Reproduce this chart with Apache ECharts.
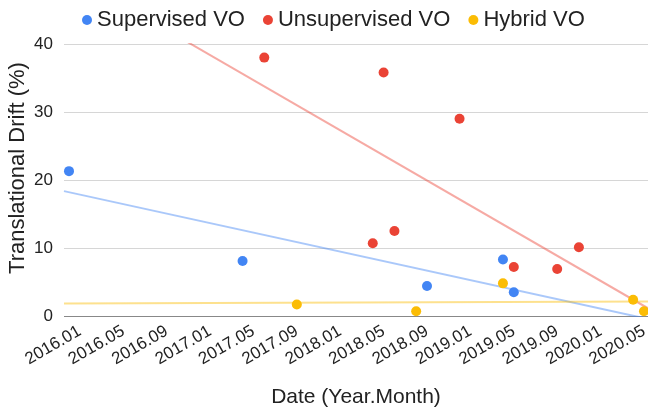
<!DOCTYPE html>
<html lang="en">
<head>
    <meta charset="UTF-8">
    <title>Translational Drift over time</title>
    <script src="https://cdn.jsdelivr.net/npm/echarts@6.0.0/dist/echarts.min.js"></script>
    <style>
        html, body { margin: 0; padding: 0; background: #fff; }
        #chart { width: 648px; height: 409px; }
    </style>
</head>
<body>
    <div id="chart"></div>
    <script>
        // dates as Year.Month, drift in %
        const supervisedDates = ['2015.12', '2017.04', '2018.09', '2019.04', '2019.05'];
        const supervisedDrift = [21.3, 8.1, 4.4, 8.3, 3.5];

        const unsupervisedDates = ['2017.06', '2018.04', '2018.05', '2018.06', '2018.12', '2019.05', '2019.09', '2019.11'];
        const unsupervisedDrift = [38.0, 10.7, 35.8, 12.5, 29.0, 7.2, 6.9, 10.1];

        const hybridDates = ['2017.09', '2018.08', '2019.04', '2020.04', '2020.05'];
        const hybridDrift = [1.7, 0.7, 4.8, 2.4, 0.7];

        const xTickLabels = ['2016.01', '2016.05', '2016.09', '2017.01', '2017.05', '2017.09', '2018.01',
            '2018.05', '2018.09', '2019.01', '2019.05', '2019.09', '2020.01', '2020.05'];

        const FONT = 'Arial, "Liberation Sans", sans-serif';
        const X_MIN = -1.46, X_MAX = 52.37;

        // months since 2016.01
        function toMonth(s) {
            const p = s.split('.');
            return (parseInt(p[0]) - 2016) * 12 + parseInt(p[1]) - 1;
        }
        function toLabel(m) {
            const y = 2016 + Math.floor(m / 12);
            const mo = m - (y - 2016) * 12 + 1;
            return y + '.' + (mo < 10 ? '0' + mo : mo);
        }
        function points(dates, vals) {
            return dates.map((d, i) => [toMonth(d), vals[i]]);
        }
        // least squares trendline across the axis range
        function trend(pts) {
            const n = pts.length;
            let mx = 0, my = 0;
            pts.forEach(p => { mx += p[0]; my += p[1]; });
            mx /= n; my /= n;
            let sxy = 0, sxx = 0;
            pts.forEach(p => { sxy += (p[0] - mx) * (p[1] - my); sxx += (p[0] - mx) * (p[0] - mx); });
            const k = sxy / sxx;
            return [[X_MIN, my + k * (X_MIN - mx)], [X_MAX, my + k * (X_MAX - mx)]];
        }

        const supPts = points(supervisedDates, supervisedDrift);
        const unsPts = points(unsupervisedDates, unsupervisedDrift);
        const hybPts = points(hybridDates, hybridDrift);

        const colors = ['#4285F4', '#EA4335', '#FBBC04'];

        function trendSeries(pts, color) {
            return {
                type: 'line',
                data: trend(pts),
                symbol: 'none',
                silent: true,
                clip: true,
                z: 1,
                lineStyle: { color: color, width: 2, opacity: 0.45 }
            };
        }
        function dotSeries(name, pts, color) {
            return {
                name: name,
                type: 'scatter',
                data: pts,
                symbolSize: 10,
                z: 3,
                itemStyle: { color: color, opacity: 1 }
            };
        }

        const chart = echarts.init(document.getElementById('chart'));
        chart.setOption({
            animation: false,
            textStyle: { fontFamily: FONT },
            legend: {
                data: ['Supervised VO', 'Unsupervised VO', 'Hybrid VO'],
                left: 77,
                top: 4,
                icon: 'circle',
                itemWidth: 10,
                itemHeight: 10,
                itemGap: 18,
                textStyle: { fontSize: 22, color: '#222', fontFamily: FONT }
            },
            grid: { left: 64, right: 0, top: 44, bottom: 93, containLabel: false, outerBoundsMode: 'none' },
            xAxis: {
                type: 'value',
                min: X_MIN,
                max: X_MAX,
                name: 'Date (Year.Month)',
                nameLocation: 'middle',
                nameGap: 71,
                nameMoveOverlap: false,
                nameTextStyle: { fontSize: 21, color: '#222', fontFamily: FONT },
                axisLine: { show: false },
                axisTick: { show: false },
                splitLine: { show: false },
                axisLabel: {
                    customValues: xTickLabels.map(toMonth),
                    formatter: v => toLabel(Math.round(v)),
                    rotate: 30,
                    margin: 14,
                    fontSize: 17,
                    color: '#222',
                    fontFamily: FONT
                }
            },
            yAxis: {
                type: 'value',
                min: 0,
                max: 40,
                interval: 10,
                name: 'Translational Drift (%)',
                nameLocation: 'middle',
                nameGap: 35,
                nameMoveOverlap: false,
                nameTextStyle: { fontSize: 22, color: '#222', fontFamily: FONT, padding: [0, 0, 0, 24] },
                axisLine: { show: false },
                axisTick: { show: false },
                axisLabel: { margin: 11, fontSize: 17, color: '#222', fontFamily: FONT },
                splitLine: {
                    lineStyle: {
                        color: ['#888', '#d6d6d6', '#d6d6d6', '#d6d6d6', '#d6d6d6'],
                        width: 1
                    }
                }
            },
            series: [
                trendSeries(supPts, colors[0]),
                trendSeries(unsPts, colors[1]),
                trendSeries(hybPts, colors[2]),
                dotSeries('Supervised VO', supPts, colors[0]),
                dotSeries('Unsupervised VO', unsPts, colors[1]),
                dotSeries('Hybrid VO', hybPts, colors[2])
            ]
        });
    </script>
</body>
</html>
